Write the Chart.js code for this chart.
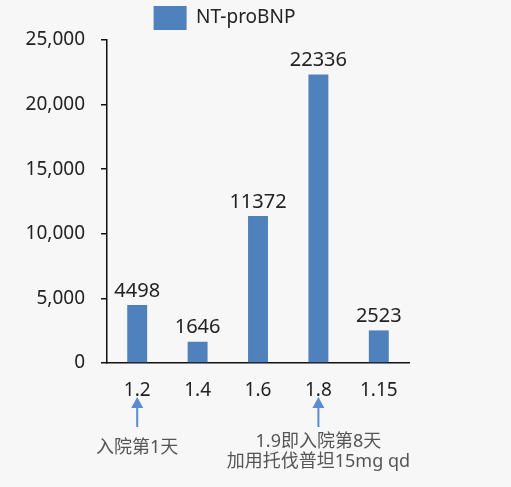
<!DOCTYPE html>
<html>
<head>
<meta charset="utf-8">
<script src="https://cdn.jsdelivr.net/npm/chart.js@4"></script>
<style>
  html, body { margin: 0; padding: 0; background: #f7f7f7; }
  #wrap { width: 511px; height: 487px; }
</style>
</head>
<body>
<div id="wrap"><canvas id="bnpChart" width="511" height="487"></canvas></div>
<script>
const dates = ['1.2', '1.4', '1.6', '1.8', '1.15'];
const bnpValues = [4498, 1646, 11372, 22336, 2523];
const yTicks = [0, 5000, 10000, 15000, 20000, 25000];

// notes under the axis: [category index, lines]
const notes = [
  [0, ['入院第1天']],
  [3, ['1.9即入院第8天', '加用托伐普坦15mg qd']]
];

const fontFamily = '"Noto Sans", "Noto Sans CJK SC", sans-serif';

// value labels on top of bars
const barLabels = {
  id: 'barLabels',
  afterLayout(chart) {
    // legend sits a bit right of the plain centre, like the original
    chart.legend.left = 40;
  },
  afterDatasetsDraw(chart) {
    const ctx = chart.ctx;
    const meta = chart.getDatasetMeta(0);
    ctx.save();
    ctx.font = '20px ' + fontFamily;
    ctx.fillStyle = '#222';
    ctx.textAlign = 'center';
    ctx.textBaseline = 'bottom';
    meta.data.forEach((bar, i) => {
      ctx.fillText(String(bnpValues[i]), bar.x, bar.y - 4);
    });
    ctx.restore();
  }
};

// arrows and notes below the x axis
const notesPlugin = {
  id: 'notes',
  afterDraw(chart) {
    const ctx = chart.ctx;
    const x = chart.scales.x;
    ctx.save();
    notes.forEach(([idx, lines]) => {
      const px = x.getPixelForValue(idx);
      ctx.strokeStyle = '#5b8bd0';
      ctx.fillStyle = '#5b8bd0';
      ctx.lineWidth = 2;
      ctx.beginPath();
      ctx.moveTo(px, 427);
      ctx.lineTo(px, 405);
      ctx.stroke();
      ctx.beginPath();
      ctx.moveTo(px, 397);
      ctx.lineTo(px - 6, 408);
      ctx.lineTo(px + 6, 408);
      ctx.closePath();
      ctx.fill();

      ctx.font = '18px ' + fontFamily;
      ctx.fillStyle = '#555';
      ctx.textAlign = 'center';
      ctx.textBaseline = 'middle';
      const startY = lines.length > 1 ? 442 : 448;
      lines.forEach((t, k) => ctx.fillText(t, px, startY + k * 20));
    });
    ctx.restore();
  }
};

const ctx = document.getElementById('bnpChart').getContext('2d');

const bnpChart = new Chart(ctx, {
  type: 'bar',
  data: {
    labels: dates,
    datasets: [{
      label: 'NT-proBNP',
      data: bnpValues,
      backgroundColor: '#4f81bd',
      borderWidth: 0,
      categoryPercentage: 1,
      barPercentage: 0.33
    }]
  },
  options: {
    responsive: false,
    animation: false,
    layout: { padding: { left: 0, right: 102, top: 0, bottom: 0 } },
    plugins: {
      legend: {
        display: true,
        position: 'top',
        labels: {
          boxWidth: 33,
          boxHeight: 24,
          padding: 6,
          color: '#222',
          font: { family: fontFamily, size: 19 }
        }
      },
      tooltip: { enabled: false }
    },
    scales: {
      x: {
        grid: { display: false },
        border: { display: true, color: '#111', width: 1.5 },
        ticks: {
          color: '#222',
          padding: 8,
          font: { family: fontFamily, size: 19 }
        },
        afterFit(scale) { scale.height = 124; }
      },
      y: {
        min: 0,
        max: 25000,
        afterBuildTicks(scale) { scale.ticks = yTicks.map(v => ({ value: v })); },
        grid: {
          display: true,
          drawOnChartArea: false,
          drawTicks: true,
          tickLength: 6,
          color: '#111',
          lineWidth: 1.5
        },
        border: { display: true, color: '#111', width: 1.5 },
        ticks: {
          color: '#222',
          padding: 16,
          font: { family: fontFamily, size: 19 },
          callback: v => v.toLocaleString('en-US')
        },
        afterFit(scale) { scale.width = 107; }
      }
    }
  },
  plugins: [barLabels, notesPlugin]
});
</script>
</body>
</html>
